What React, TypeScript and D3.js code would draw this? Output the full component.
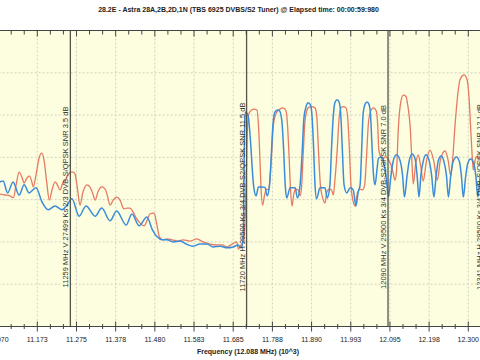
import React from 'react';
import * as d3 from 'd3';

const title = "28.2E - Astra 28A,2B,2D,1N (TBS 6925 DVBS/S2 Tuner) @ Elapsed time: 00:00:59:980";
const xAxisTitle = "Frequency (12.088 MHz) (10^3)";
const xTickValues = [11070, 11172.5, 11275, 11377.5, 11480, 11582.5, 11685, 11787.5, 11890, 11992.5, 12095, 12197.5, 12300];
const xTickLabels = ["11.070", "11.173", "11.275", "11.378", "11.480", "11.583", "11.685", "11.788", "11.890", "11.993", "12.095", "12.198", "12.300"];
const yTickValues = [-60, -50, -40, -30, -20, -10];
const markerFreqs = [11259, 11720, 12090, 12341];
const markerLabels = [
  "11259 MHz V 27499 Ks 2/3 DVB-S/QPSK SNR 3.5 dB",
  "11720 MHz H 29500 Ks 3/4 DVB-S2/QPSK SNR 11.5 dB",
  "12090 MHz V 29500 Ks 3/4 DVB-S2/8PSK SNR 7.0 dB",
  "12341 MHz H 29500 Ks 3/4 DVB-S/QPSK SNR 12.1 dB",
];

// [frequency MHz, level dB]
const blueSeries: [number, number][] = [
  [11049, -36.8], [11075, -35.8], [11083, -35.6], [11095, -38.4], [11109, -35.8], [11125, -38.9], [11138, -36.5], [11151, -38.4],
  [11169, -37.2], [11185, -40.6], [11201, -42.4], [11219, -41.5], [11237, -42.4], [11250, -41.3], [11263, -39.8], [11282, -43.9],
  [11300, -41.5], [11324, -43.9], [11341, -42.0], [11363, -45.0], [11380, -42.7], [11405, -46.0], [11420, -43.4], [11439, -46.2],
  [11459, -44.1], [11474, -47.2], [11486, -48.8], [11499, -49.5], [11512, -49.5], [11528, -50.0], [11546, -49.8], [11562, -50.5],
  [11580, -51.0], [11598, -50.5], [11617, -50.5], [11632, -51.2], [11651, -51.0], [11669, -51.4], [11685, -51.2], [11698, -50.7],
  [11705, -51.4], [11711, -49.5], [11715, -22.3], [11717, -19.3], [11724, -20.2], [11730, -25.9], [11737, -35.4], [11739, -37.2],
  [11745, -39.1], [11751, -37.0], [11760, -37.0], [11768, -37.1], [11774, -39.1], [11780, -36.5], [11784, -30.6], [11789, -22.3],
  [11794, -19.3], [11800, -18.8], [11806, -19.0], [11812, -21.2], [11817, -28.3], [11821, -36.5], [11825, -39.6], [11834, -37.2],
  [11847, -37.2], [11853, -39.6], [11860, -36.5], [11865, -29.4], [11870, -20.7], [11876, -17.9], [11881, -17.1], [11887, -17.6],
  [11891, -20.0], [11895, -27.1], [11899, -36.5], [11903, -39.8], [11912, -37.2], [11925, -37.2], [11931, -39.6], [11938, -36.5],
  [11942, -28.3], [11947, -20.0], [11951, -17.1], [11957, -16.4], [11962, -16.9], [11966, -19.3], [11970, -27.1], [11975, -36.5],
  [11982, -38.4], [11991, -37.2], [11999, -37.7], [12006, -41.5], [12012, -38.2], [12017, -36.5], [12021, -28.3], [12025, -19.5],
  [12030, -17.4], [12035, -16.9], [12040, -17.4], [12044, -19.7], [12048, -27.1], [12052, -34.2], [12056, -36.5], [12061, -33.0],
  [12065, -30.2], [12073, -29.9], [12080, -31.8], [12086, -35.4], [12091, -39.4], [12097, -34.9], [12103, -31.1], [12112, -29.4],
  [12121, -30.6], [12128, -34.2], [12133, -39.4], [12140, -34.2], [12146, -30.6], [12153, -29.2], [12161, -30.4], [12166, -34.2],
  [12171, -39.4], [12176, -34.2], [12183, -30.6], [12189, -29.4], [12197, -30.6], [12204, -34.2], [12210, -39.4], [12216, -34.2],
  [12222, -30.6], [12229, -29.7], [12236, -30.9], [12243, -34.4], [12248, -39.4], [12254, -34.4], [12260, -31.1], [12269, -29.9],
  [12277, -31.1], [12282, -34.4], [12287, -39.4], [12293, -34.6], [12299, -31.3], [12306, -30.4], [12314, -31.3], [12320, -34.6],
  [12325, -39.4], [12331, -34.6], [12339, -31.1], [12346, -30.6], [12357, -33.0],
];

const redSeries: [number, number][] = [
  [11049, -38.7], [11075, -38.7], [11088, -38.9], [11101, -39.1], [11110, -39.6], [11117, -36.5], [11125, -33.5], [11133, -34.9],
  [11138, -36.1], [11144, -35.1], [11152, -34.4], [11157, -35.4], [11162, -37.0], [11169, -34.2], [11177, -30.2], [11184, -29.0],
  [11190, -30.6], [11197, -35.8], [11204, -40.1], [11211, -37.7], [11219, -35.8], [11225, -36.5], [11232, -37.7], [11239, -36.1],
  [11245, -35.4], [11253, -34.2], [11260, -33.5], [11266, -33.5], [11271, -33.9], [11278, -37.7], [11284, -41.3], [11292, -38.2],
  [11302, -36.5], [11310, -37.0], [11317, -38.4], [11324, -40.1], [11331, -38.2], [11341, -37.0], [11350, -37.5], [11356, -39.1],
  [11363, -41.3], [11371, -40.1], [11380, -39.4], [11389, -40.1], [11394, -41.3], [11399, -42.2], [11407, -42.0], [11415, -42.0],
  [11423, -42.9], [11431, -44.3], [11441, -45.5], [11452, -46.2], [11460, -44.8], [11467, -43.4], [11478, -43.2], [11484, -45.3],
  [11492, -48.8], [11501, -49.5], [11512, -49.3], [11525, -49.5], [11541, -49.8], [11554, -49.5], [11572, -49.8], [11590, -49.3],
  [11606, -50.0], [11624, -50.5], [11642, -50.7], [11656, -50.7], [11669, -51.2], [11679, -50.7], [11694, -50.0], [11699, -51.7],
  [11703, -51.0], [11708, -50.5], [11713, -49.1], [11719, -35.4], [11722, -23.5], [11726, -19.7], [11733, -18.8], [11739, -18.6],
  [11747, -18.8], [11751, -22.3], [11755, -30.6], [11758, -37.7], [11762, -41.3], [11767, -38.9], [11772, -37.5], [11777, -37.7],
  [11781, -35.4], [11786, -28.3], [11790, -22.3], [11799, -19.3], [11807, -18.6], [11816, -18.3], [11823, -19.0], [11827, -22.3],
  [11831, -29.4], [11835, -37.7], [11839, -41.5], [11844, -38.4], [11849, -37.5], [11855, -37.7], [11860, -39.1], [11864, -36.8],
  [11868, -29.4], [11873, -21.2], [11881, -18.3], [11890, -18.0], [11899, -18.3], [11904, -20.7], [11908, -28.3], [11913, -36.5],
  [11919, -39.6], [11925, -40.8], [11930, -38.2], [11936, -37.5], [11942, -37.7], [11947, -38.9], [11951, -35.4], [11957, -28.3],
  [11962, -20.7], [11967, -18.3], [11973, -18.0], [11980, -18.3], [11985, -21.2], [11989, -28.3], [11993, -36.5], [11998, -40.1],
  [12004, -41.5], [12010, -38.4], [12017, -37.5], [12023, -37.7], [12029, -36.5], [12034, -29.4], [12039, -21.6], [12046, -18.8],
  [12052, -18.3], [12059, -19.0], [12063, -22.3], [12066, -28.3], [12072, -29.9], [12078, -30.2], [12085, -29.9], [12091, -30.6],
  [12098, -31.8], [12103, -33.5], [12108, -35.4], [12112, -33.5], [12117, -23.1], [12123, -17.1], [12130, -15.3], [12137, -15.6],
  [12142, -17.9], [12148, -22.8], [12152, -29.9], [12156, -36.3], [12162, -31.8], [12169, -29.4], [12175, -31.8], [12182, -35.6],
  [12191, -30.6], [12200, -28.3], [12209, -30.6], [12219, -35.4], [12227, -30.6], [12239, -28.5], [12247, -30.6], [12254, -34.4],
  [12259, -30.6], [12265, -22.8], [12272, -15.5], [12278, -11.7], [12289, -10.5], [12297, -11.7], [12302, -16.0], [12306, -22.8],
  [12310, -29.4], [12313, -33.0], [12318, -30.6], [12323, -29.7], [12331, -30.6], [12344, -30.2], [12357, -30.6],
];

const W = 480;
const H = 360;
const plotTop = 30.5;
const plotBottom = 326.5;
const xScale = d3.scaleLinear().domain([11172.5, 12300]).range([37.3, 468.3]);
const yScale = d3.scaleLinear().domain([-70, 0]).range([plotBottom, plotTop]);
const plotLeft = xScale(11040);
const plotRight = xScale(12420);
const font = "'Liberation Sans', Arial, sans-serif";

export default function App() {
  const line = d3
    .line<[number, number]>()
    .x((d) => xScale(d[0]))
    .y((d) => yScale(d[1]))
    .curve(d3.curveMonotoneX);

  const step = 102.5 / 3;
  const minorTicks = d3.range(11070 - step * 3, 12420, step).filter(
    (v) => !xTickValues.some((t) => Math.abs(t - v) < 1)
  );

  return (
    <svg
      width={W}
      height={H}
      style={{ position: 'absolute', left: 0, top: 0, background: '#fff' }}
      fontFamily={font}
    >
      <defs>
        <clipPath id="plotClip">
          <rect x={plotLeft} y={plotTop} width={plotRight - plotLeft} height={plotBottom - plotTop} />
        </clipPath>
      </defs>
      <rect x={0} y={0} width={W} height={H} fill="#ffffff" />
      <rect
        x={plotLeft}
        y={plotTop}
        width={plotRight - plotLeft}
        height={plotBottom - plotTop}
        fill="#fdfddf"
      />
      {/* grid */}
      <g stroke="#d2d2c2" strokeWidth={1} strokeDasharray="2,2">
        {yTickValues.map((v) => (
          <line key={'gy' + v} x1={plotLeft} x2={plotRight} y1={yScale(v)} y2={yScale(v)} />
        ))}
        {xTickValues.map((v) => (
          <line key={'gx' + v} x1={xScale(v)} x2={xScale(v)} y1={plotTop} y2={plotBottom} />
        ))}
      </g>
      {/* curves */}
      <g clipPath="url(#plotClip)" fill="none" strokeLinejoin="round">
        <path d={line(redSeries) || ''} stroke="#e67a63" strokeWidth={1.3} />
        <path d={line(blueSeries) || ''} stroke="#3b8ddb" strokeWidth={1.5} />
      </g>
      {/* markers */}
      {markerFreqs.map((f, i) => {
        const x = xScale(f);
        return (
          <g key={'m' + f}>
            <line x1={x} x2={x} y1={plotTop} y2={plotBottom} stroke="#55554c" strokeWidth={1.3} />
            <text
              transform={`translate(${x - 2},197) rotate(-90)`}
              textAnchor="middle"
              fontSize={7.5}
              fill="#333"
            >
              {markerLabels[i]}
            </text>
          </g>
        );
      })}
      {/* axes frame */}
      <line x1={plotLeft} x2={plotRight} y1={plotTop} y2={plotTop} stroke="#444" strokeWidth={1} />
      <line x1={plotLeft} x2={plotRight} y1={plotBottom} y2={plotBottom} stroke="#444" strokeWidth={1} />
      <g stroke="#444" strokeWidth={1}>
        {xTickValues.map((v) => (
          <g key={'t' + v}>
            <line x1={xScale(v)} x2={xScale(v)} y1={plotBottom - 5} y2={plotBottom + 5} />
            <line x1={xScale(v)} x2={xScale(v)} y1={plotTop} y2={plotTop + 6} />
          </g>
        ))}
        {minorTicks.map((v) => (
          <g key={'mt' + v}>
            <line x1={xScale(v)} x2={xScale(v)} y1={plotBottom - 2.5} y2={plotBottom + 2.5} />
            <line x1={xScale(v)} x2={xScale(v)} y1={plotTop} y2={plotTop + 4} />
          </g>
        ))}
      </g>
      {xTickValues.map((v, i) => (
        <text key={'tl' + v} x={xScale(v)} y={342} textAnchor="middle" fontSize={7} fill="#222">
          {xTickLabels[i]}
        </text>
      ))}
      <text x={248} y={354} textAnchor="middle" fontSize={7} fontWeight="bold" fill="#222">
        {xAxisTitle}
      </text>
      <text x={238.5} y={11.5} textAnchor="middle" fontSize={7} fontWeight="bold" fill="#222">
        {title}
      </text>
    </svg>
  );
}
